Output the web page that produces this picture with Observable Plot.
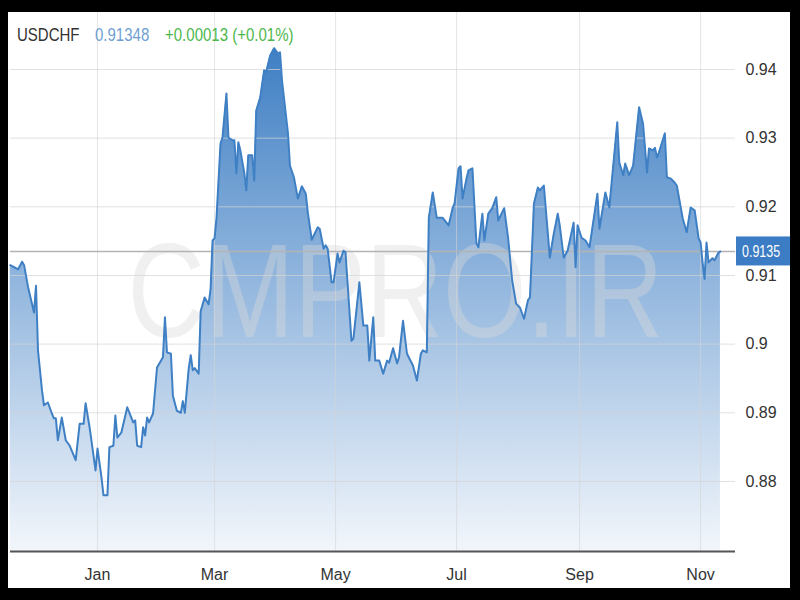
<!DOCTYPE html>
<html><head><meta charset="utf-8">
<script src="https://cdn.jsdelivr.net/npm/d3@7"></script>
<script src="https://cdn.jsdelivr.net/npm/@observablehq/plot@0.6"></script>
<style>
body{margin:0;background:#000;}
#wrap{position:relative;width:800px;height:600px;background:#000;overflow:hidden;}
#panel{position:absolute;left:8px;top:12px;width:782px;height:576px;background:#fff;}
#chart{position:absolute;left:0;top:0;}
.hdr{position:absolute;top:25px;display:inline-block;font-family:"Liberation Sans",Arial,sans-serif;font-size:19px;line-height:19px;white-space:pre;transform:scaleX(0.79);transform-origin:0 0;}
</style></head><body>
<div id="wrap"><div id="panel"></div><div id="chart"></div>
<span class="hdr" id="h1" style="left:17px;color:#333"></span>
<span class="hdr" id="h2" style="left:95px;color:#6f9fd2"></span>
<span class="hdr" id="h3" style="left:165px;color:#4cb84c"></span>
</div>
<script>
const symbol = "USDCHF";
const quote = "0.91348";
const change = "+0.00013 (+0.01%)";
const lastPrice = 0.9135;
const watermarkText = "CMPRO.IR";

const dates = [
"2020-11-18","2020-11-20","2020-11-22","2020-11-24","2020-11-25","2020-11-27","2020-11-30","2020-12-01","2020-12-02","2020-12-04",
"2020-12-05","2020-12-07","2020-12-09","2020-12-10","2020-12-11","2020-12-12","2020-12-14","2020-12-16","2020-12-18","2020-12-21",
"2020-12-23","2020-12-25","2020-12-26","2020-12-28","2020-12-31","2021-01-01","2021-01-03","2021-01-04","2021-01-06","2021-01-07",
"2021-01-09","2021-01-10","2021-01-11","2021-01-13","2021-01-16","2021-01-19","2021-01-20","2021-01-21","2021-01-23","2021-01-24",
"2021-01-25","2021-01-26","2021-01-27","2021-01-29","2021-01-31","2021-02-03","2021-02-04","2021-02-05","2021-02-07","2021-02-08",
"2021-02-10","2021-02-12","2021-02-13","2021-02-14","2021-02-16","2021-02-17","2021-02-18","2021-02-19","2021-02-21","2021-02-22",
"2021-02-24","2021-02-26","2021-02-27","2021-02-28","2021-03-01","2021-03-02","2021-03-04","2021-03-05","2021-03-07","2021-03-08",
"2021-03-10","2021-03-11","2021-03-12","2021-03-13","2021-03-14","2021-03-16","2021-03-17","2021-03-18","2021-03-20","2021-03-21",
"2021-03-22","2021-03-24","2021-03-26","2021-03-27","2021-03-29","2021-03-31","2021-04-02","2021-04-03","2021-04-04","2021-04-07",
"2021-04-08","2021-04-10","2021-04-12","2021-04-14","2021-04-16","2021-04-17","2021-04-19","2021-04-22","2021-04-23","2021-04-25",
"2021-04-26","2021-04-27","2021-04-29","2021-04-30","2021-05-02","2021-05-03","2021-05-05","2021-05-06","2021-05-09","2021-05-10",
"2021-05-13","2021-05-15","2021-05-17","2021-05-18","2021-05-20","2021-05-21","2021-05-23","2021-05-25","2021-05-27","2021-05-28",
"2021-05-30","2021-06-01","2021-06-02","2021-06-04","2021-06-06","2021-06-09","2021-06-11","2021-06-13","2021-06-14","2021-06-16",
"2021-06-17","2021-06-19","2021-06-21","2021-06-24","2021-06-27","2021-06-29","2021-06-30","2021-07-02","2021-07-03","2021-07-04",
"2021-07-06","2021-07-07","2021-07-09","2021-07-11","2021-07-12","2021-07-14","2021-07-15","2021-07-17","2021-07-19","2021-07-21",
"2021-07-22","2021-07-25","2021-07-27","2021-07-29","2021-07-31","2021-08-02","2021-08-04","2021-08-06","2021-08-07","2021-08-09",
"2021-08-11","2021-08-12","2021-08-14","2021-08-16","2021-08-17","2021-08-19","2021-08-21","2021-08-22","2021-08-24","2021-08-26",
"2021-08-29","2021-08-30","2021-08-31","2021-09-02","2021-09-04","2021-09-06","2021-09-10","2021-09-11","2021-09-14","2021-09-16",
"2021-09-20","2021-09-21","2021-09-23","2021-09-24","2021-09-26","2021-09-28","2021-10-01","2021-10-03","2021-10-05","2021-10-06",
"2021-10-08","2021-10-09","2021-10-10","2021-10-11","2021-10-14","2021-10-15","2021-10-17","2021-10-19","2021-10-20","2021-10-23",
"2021-10-25","2021-10-27","2021-10-29","2021-10-31","2021-11-01","2021-11-02","2021-11-03","2021-11-04","2021-11-05","2021-11-07",
"2021-11-08","2021-11-10","2021-11-11"
];
const values = [
0.9115,0.9112,0.9109,0.9120,0.9115,0.9083,0.9046,0.9085,0.8991,0.8933,
0.8911,0.8915,0.8899,0.8892,0.8892,0.8860,0.8893,0.8860,0.8852,0.8831,
0.8884,0.8884,0.8914,0.8879,0.8816,0.8848,0.8806,0.8780,0.8780,0.8850,
0.8852,0.8896,0.8864,0.8871,0.8908,0.8886,0.8889,0.8852,0.8850,0.8879,
0.8867,0.8893,0.8886,0.8899,0.8966,0.8981,0.9039,0.8988,0.8986,0.8925,
0.8903,0.8900,0.8917,0.8900,0.8965,0.8984,0.8962,0.8965,0.8957,0.9048,
0.9068,0.9058,0.9080,0.9151,0.9154,0.9184,0.9292,0.9301,0.9365,0.9301,
0.9297,0.9297,0.9249,0.9294,0.9282,0.9249,0.9224,0.9275,0.9275,0.9238,
0.9340,0.9359,0.9399,0.9396,0.9420,0.9431,0.9423,0.9425,0.9384,0.9307,
0.9260,0.9243,0.9212,0.9230,0.9219,0.9192,0.9152,0.9170,0.9168,0.9139,
0.9144,0.9139,0.9090,0.9090,0.9132,0.9119,0.9136,0.9134,0.9005,0.9008,
0.9090,0.9027,0.9027,0.8976,0.9039,0.8976,0.8976,0.8957,0.8976,0.8973,
0.8994,0.8972,0.8981,0.9034,0.8986,0.8969,0.8947,0.8986,0.8991,0.8988,
0.9184,0.9221,0.9184,0.9184,0.9173,0.9198,0.9205,0.9256,0.9259,0.9212,
0.9241,0.9253,0.9256,0.9147,0.9141,0.9190,0.9151,0.9190,0.9198,0.9214,
0.9180,0.9198,0.9154,0.9093,0.9059,0.9053,0.9037,0.9064,0.9068,0.9205,
0.9228,0.9224,0.9231,0.9161,0.9126,0.9161,0.9190,0.9173,0.9126,0.9136,
0.9177,0.9112,0.9173,0.9155,0.9151,0.9141,0.9219,0.9168,0.9221,0.9199,
0.9323,0.9265,0.9246,0.9263,0.9246,0.9260,0.9345,0.9321,0.9250,0.9285,
0.9282,0.9286,0.9272,0.9279,0.9307,0.9243,0.9241,0.9235,0.9231,0.9183,
0.9163,0.9199,0.9195,0.9154,0.9148,0.9119,0.9095,0.9148,0.9119,0.9125,
0.9122,0.9133,0.9135
];
const yTicks = [0.88, 0.89, 0.9, 0.91, 0.92, 0.93, 0.94];
const monthTickDates = ["2021-01-01","2021-03-01","2021-05-01","2021-07-01","2021-09-01","2021-11-01"];
const monthLabels = ["Jan","Mar","May","Jul","Sep","Nov"];
const xDomainStr = ["2020-11-18T03:24Z", "2021-11-18T14:24Z"];
const yDomain = [0.8698, 0.9483];

const FONT = '"Liberation Sans",Arial,sans-serif';
const NARROW = "scale(0.78,1)";

document.getElementById("h1").textContent = symbol;
document.getElementById("h2").textContent = quote;
document.getElementById("h3").textContent = change;

const data = dates.map((d, i) => ({date: new Date(d + "T00:00Z"), value: values[i]}));
const monthTicks = monthTickDates.map(d => new Date(d + "T00:00Z"));
const xDomain = xDomainStr.map(d => new Date(d));

const defsMark = (index, scales, values, dims) => {
  const defs = d3.create("svg:defs");
  const g = defs.append("linearGradient").attr("id", "fillGrad")
    .attr("gradientUnits", "userSpaceOnUse")
    .attr("x1", 0).attr("x2", 0)
    .attr("y1", scales.y(d3.max(data, d => d.value)))
    .attr("y2", dims.height - dims.marginBottom);
  g.append("stop").attr("offset", 0).attr("stop-color", "#3f7fc4");
  g.append("stop").attr("offset", 1).attr("stop-color", "#f2f6fb");
  return defs.node();
};

const watermarkMark = (index, scales, values, dims) => {
  const cx = dims.marginLeft + (dims.width - dims.marginLeft - dims.marginRight) / 2 + 23;
  const cy = dims.marginTop + (dims.height - dims.marginTop - dims.marginBottom) / 2;
  const g = d3.create("svg:g").attr("transform", `translate(${cx},${cy + 55})`);
  g.append("text")
    .attr("transform", "scale(0.8,1)")
    .attr("text-anchor", "middle")
    .attr("font-family", FONT)
    .attr("font-size", 134)
    .attr("fill", "#d9d9d9")
    .attr("fill-opacity", 0.4)
    .text(watermarkText);
  return g.node();
};

const priceLabelMark = (index, scales, values, dims) => {
  const g = d3.create("svg:g");
  const y = scales.y(lastPrice);
  const x0 = dims.width - dims.marginRight + 1;
  g.append("rect").attr("x", x0).attr("y", y - 14.5).attr("width", 54).attr("height", 29).attr("fill", "#3b7cc4");
  g.append("g").attr("transform", `translate(${x0 + 6},${y})`)
    .append("text").attr("transform", NARROW).attr("dy", "0.35em")
    .attr("text-anchor", "start")
    .attr("fill", "#fff").attr("font-size", 16).attr("font-family", FONT)
    .text(String(lastPrice));
  return g.node();
};

const chart = Plot.plot({
  width: 800, height: 600,
  marginLeft: 10, marginRight: 65, marginTop: 12, marginBottom: 49,
  style: {background: "transparent", fontFamily: FONT, fontSize: "16px", color: "#333", overflow: "visible"},
  x: {type: "utc", domain: xDomain, ticks: monthTicks,
      tickFormat: d => monthLabels[monthTicks.findIndex(m => +m === +d)],
      tickSize: 0, tickPadding: 17, label: null},
  y: {domain: yDomain, axis: "right", ticks: yTicks, tickFormat: d => String(d),
      tickSize: 0, tickPadding: 10, label: null},
  marks: [
    defsMark,
    Plot.areaY(data, {x: "date", y1: yDomain[0], y2: "value", fill: "url(#fillGrad)"}),
    Plot.ruleY(yTicks, {stroke: "#d4d4d4", strokeOpacity: 0.7}),
    Plot.ruleX(monthTicks, {stroke: "#d4d4d4", strokeOpacity: 0.6}),
    watermarkMark,
    Plot.ruleY([lastPrice], {stroke: "#b3b3b3", strokeWidth: 1.5}),
    Plot.lineY(data, {x: "date", y: "value", stroke: "#3f80c5", strokeWidth: 2}),
    Plot.ruleY([yDomain[0]], {stroke: "#555", strokeWidth: 2}),
    priceLabelMark
  ]
});
const sel = d3.select(chart);
sel.selectAll('[aria-label="x-axis"] text').attr("fill", "#555").attr("transform", NARROW);
sel.selectAll('[aria-label="y-axis"] text').attr("transform", NARROW);
document.getElementById("chart").appendChild(chart);
</script>
</body></html>
